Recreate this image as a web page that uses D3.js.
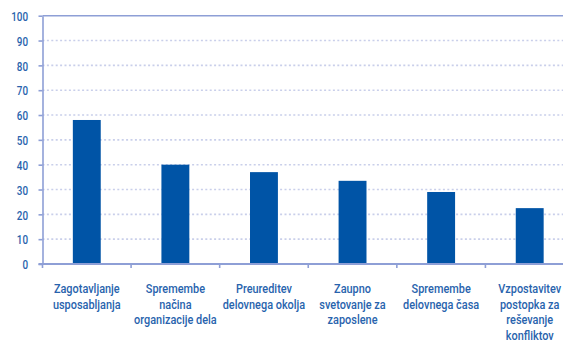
<!DOCTYPE html>
<html>
<head>
<meta charset="utf-8">
<script src="https://cdn.jsdelivr.net/npm/d3@7"></script>
<style>
  html, body { margin: 0; padding: 0; background: #fff; }
  svg { display: block; }
  text { font-family: Roboto, "Noto Sans", sans-serif; font-weight: 500; }
</style>
</head>
<body>
<svg id="chart" width="563" height="359"></svg>
<script>
// Categories (each entry split into display lines) and their values
const categories = [
  ["Zagotavljanje", "usposabljanja"],
  ["Spremembe", "načina", "organizacije dela"],
  ["Preureditev", "delovnega okolja"],
  ["Zaupno", "svetovanje za", "zaposlene"],
  ["Spremembe", "delovnega časa"],
  ["Vzpostavitev", "postopka za", "reševanje", "konfliktov"]
];
const values = [58, 40, 37, 33.5, 29, 22.5];
const yTicks = [0, 10, 20, 30, 40, 50, 60, 70, 80, 90, 100];

const svg = d3.select("#chart");
const axisColor = "#8e9fd6";
const gridColor = "#c9cfea";
const barColor = "#0054a6";
const textColor = "#2863ad";

const plot = { left: 42.5, right: 574, top: 15.7, bottom: 264 };

const x = d3.scaleBand()
  .domain(d3.range(categories.length))
  .range([plot.left, plot.right])
  .paddingInner(0.685)
  .paddingOuter(0.3425);

const y = d3.scaleLinear().domain([0, 100]).range([plot.bottom, plot.top]);

// Dotted gridlines
svg.append("g")
  .selectAll("line")
  .data(yTicks.filter(t => t > 0 && t < 100))
  .join("line")
  .attr("x1", plot.left).attr("x2", plot.right)
  .attr("y1", d => y(d)).attr("y2", d => y(d))
  .attr("stroke", gridColor)
  .attr("stroke-width", 1.6)
  .attr("stroke-dasharray", "2,2.4");

// Top border at 100
svg.append("line")
  .attr("x1", plot.left).attr("x2", plot.right)
  .attr("y1", y(100)).attr("y2", y(100))
  .attr("stroke", axisColor).attr("stroke-width", 1.6);

// Bars
svg.append("g")
  .selectAll("rect")
  .data(values)
  .join("rect")
  .attr("x", (d, i) => x(i))
  .attr("width", x.bandwidth())
  .attr("y", d => y(d))
  .attr("height", d => y(0) - y(d))
  .attr("fill", barColor);

// Y axis (labels horizontally condensed)
const yAxis = svg.append("g")
  .attr("transform", `translate(${plot.left},0)`)
  .call(d3.axisLeft(y).tickValues(yTicks).tickSize(4).tickPadding(0).tickSizeOuter(0));
yAxis.select(".domain").attr("stroke", axisColor).attr("stroke-width", 1.6);
yAxis.selectAll(".tick line").attr("stroke", axisColor).attr("stroke-width", 1.6);
yAxis.selectAll(".tick text")
  .attr("x", 0)
  .attr("transform", "translate(-14.5,0) scale(0.76,1)")
  .attr("fill", textColor)
  .attr("font-size", 13)
  .attr("dy", "0.36em");

// X axis with ticks at category boundaries
const boundaries = d3.range(categories.length + 1).map(i => plot.left + i * x.step());
svg.append("line")
  .attr("x1", plot.left - 4).attr("x2", plot.right)
  .attr("y1", plot.bottom).attr("y2", plot.bottom)
  .attr("stroke", axisColor).attr("stroke-width", 1.8);
svg.append("g")
  .selectAll("line")
  .data(boundaries)
  .join("line")
  .attr("x1", d => d).attr("x2", d => d)
  .attr("y1", plot.bottom).attr("y2", plot.bottom + 4)
  .attr("stroke", axisColor).attr("stroke-width", 1.6);

// Category labels (horizontally condensed)
const labels = svg.append("g")
  .selectAll("text")
  .data(categories)
  .join("text")
  .attr("text-anchor", "middle")
  .attr("fill", textColor)
  .attr("font-size", 13)
  .attr("transform", (d, i) => `translate(${x(i) + x.bandwidth() / 2},293) scale(0.84,1)`);
labels.selectAll("tspan")
  .data(d => d)
  .join("tspan")
  .attr("x", 0)
  .attr("y", (d, j) => j * 15.6)
  .text(d => d);
</script>
</body>
</html>
